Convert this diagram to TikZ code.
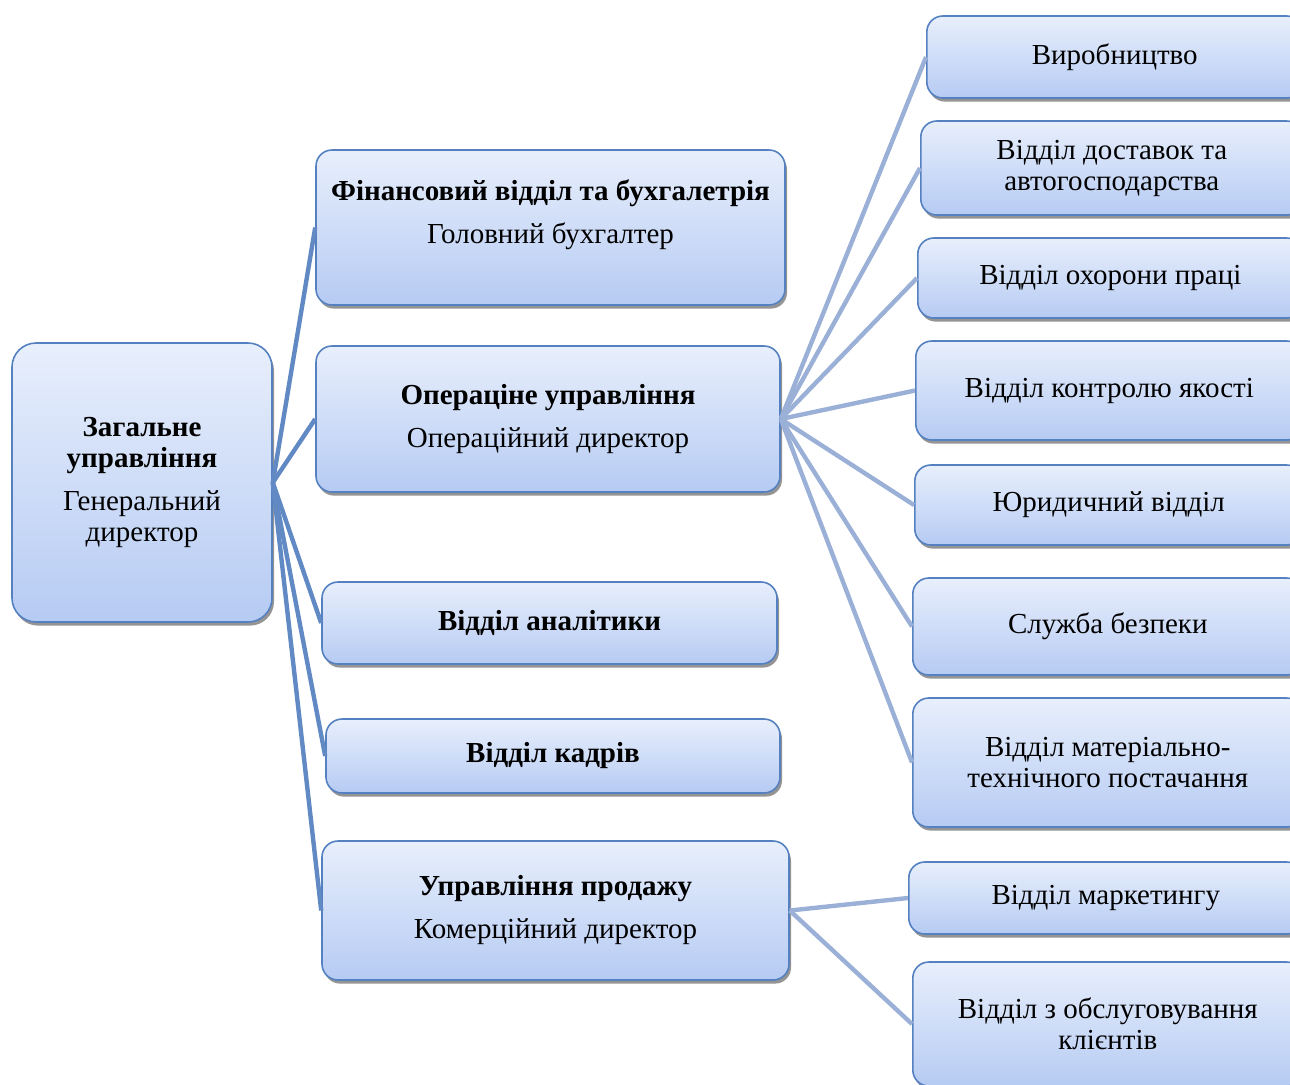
\documentclass[tikz,border=0pt]{standalone}
\usepackage{fontspec}
\setmainfont{Liberation Serif}
\usetikzlibrary{positioning,shadows}

\definecolor{boxline}{HTML}{5581C1}
\definecolor{boxtop}{HTML}{E8EFFC}
\definecolor{boxbot}{HTML}{B6CBF3}
\definecolor{linkA}{HTML}{6189C4}
\definecolor{linkB}{HTML}{9BB0D6}

\begin{document}
\begin{tikzpicture}[x=0.5pt,y=-0.5pt,
	unit/.style={
		draw=boxline, line width=0.8pt,
		rounded corners=8pt,
		top color=boxtop, bottom color=boxbot,
		align=center, inner sep=2pt,
		font=\fontsize{14.5}{15.5}\selectfont,
		drop shadow={shadow xshift=1pt, shadow yshift=-1.8pt, fill=black!60, opacity=0.7}
	},
	sub/.style={
		unit, anchor=west
	},
	mainlink/.style={draw=linkA, line width=2.2pt},
	sublink/.style={draw=linkB, line width=2.2pt}
	]
	\clip (0,0) rectangle (1290,1084);
	% top level
	\node[unit, rounded corners=12pt, minimum width=130pt, minimum height=139.5pt] at (142,482.5)
	(gen) {\textbf{Загальне}\\\textbf{управління}\\[6pt]Генеральний\\директор};
	% departments
	\node[unit, text depth=16pt, minimum width=234.5pt, minimum height=77.5pt] at (550.5,227.5)
	(fin) {\textbf{Фінансовий відділ та бухгалетрія}\\[6pt]Головний бухгалтер};
	\node[unit, minimum width=232pt, minimum height=73pt] at (548,419)
	(oper) {\textbf{Операціне управління}\\[6pt]Операційний директор};
	\node[unit, minimum width=227.5pt, minimum height=41pt] at (549.5,623)
	(anal) {\textbf{Відділ аналітики}};
	\node[unit, minimum width=227pt, minimum height=37pt] at (553,756)
	(kadr) {\textbf{Відділ кадрів}};
	\node[unit, minimum width=233.5pt, minimum height=69.5pt] at (555.5,910.5)
	(prod) {\textbf{Управління продажу}\\[6pt]Комерційний директор};
	% operational units
	\node[sub, minimum width=188pt, minimum height=41pt] at (926,57)
	(o1) {Виробництво};
	\node[sub, minimum width=191pt, minimum height=47pt] at (920,168)
	(o2) {Відділ доставок та\\автогосподарства};
	\node[sub, minimum width=192.5pt, minimum height=40pt] at (917,278)
	(o3) {Відділ охорони праці};
	\node[sub, minimum width=193.5pt, minimum height=49.5pt] at (915,390.5)
	(o4) {Відділ контролю якості};
	\node[sub, minimum width=194pt, minimum height=40pt] at (914,505)
	(o5) {Юридичний відділ};
	\node[sub, minimum width=195pt, minimum height=48.5pt] at (912,626.5)
	(o6) {Служба безпеки};
	\node[sub, minimum width=195pt, minimum height=64.5pt] at (912,762.5)
	(o7) {Відділ матеріально-\\технічного постачання};
	% sales units
	\node[sub, minimum width=197pt, minimum height=36pt] at (908,898)
	(p1) {Відділ маркетингу};
	\node[sub, minimum width=195pt, minimum height=62pt] at (912,1024)
	(p2) {Відділ з обслуговування\\клієнтів};
	
	\draw[mainlink] (gen.east) -- (fin.west);
	\draw[mainlink] (gen.east) -- (oper.west);
	\draw[mainlink] (gen.east) -- (anal.west);
	\draw[mainlink] (gen.east) -- (kadr.west);
	\draw[mainlink] (gen.east) -- (prod.west);
	
	\draw[sublink] (oper.east) -- (o1.west);
	\draw[sublink] (oper.east) -- (o2.west);
	\draw[sublink] (oper.east) -- (o3.west);
	\draw[sublink] (oper.east) -- (o4.west);
	\draw[sublink] (oper.east) -- (o5.west);
	\draw[sublink] (oper.east) -- (o6.west);
	\draw[sublink] (oper.east) -- (o7.west);
	\draw[sublink] (prod.east) -- (p1.west);
	\draw[sublink] (prod.east) -- (p2.west);
\end{tikzpicture}
\end{document}
